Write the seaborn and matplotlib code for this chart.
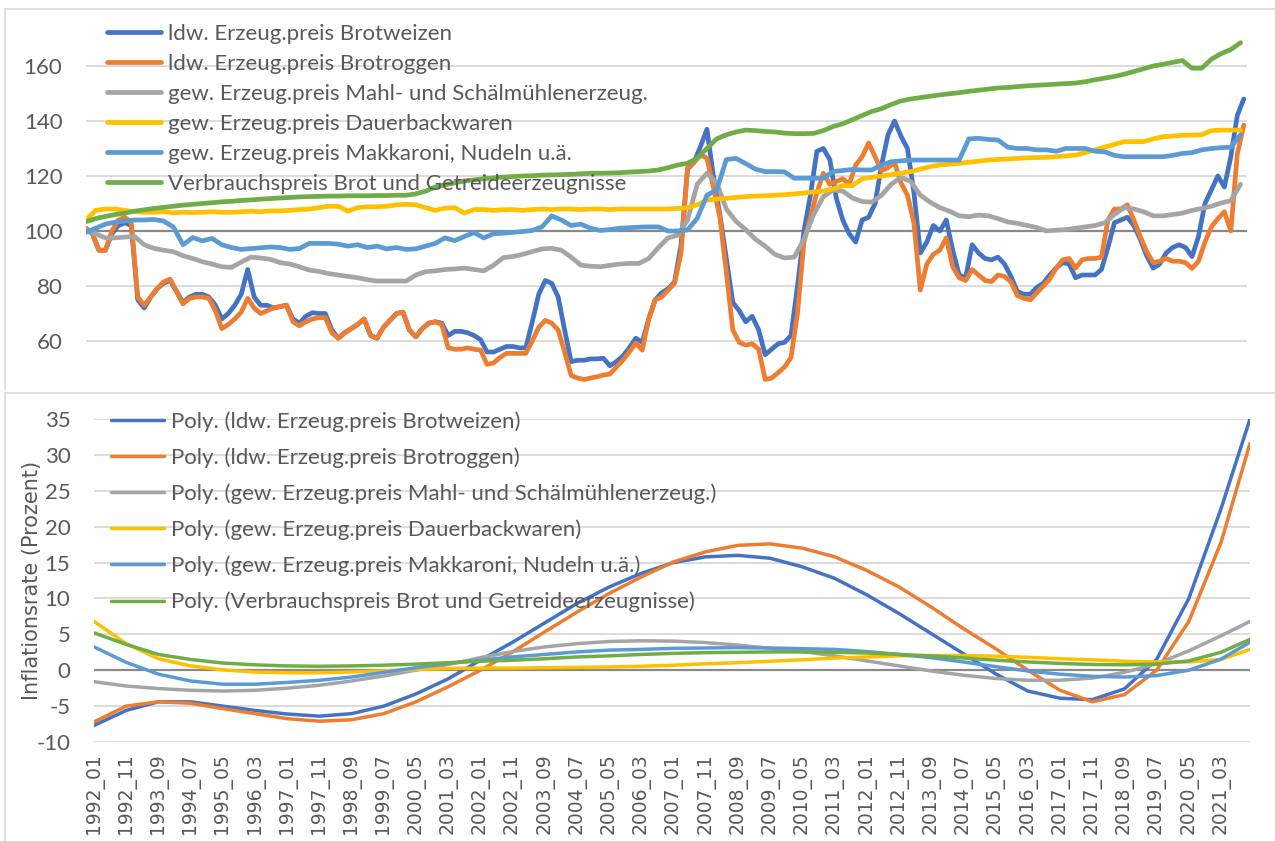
import numpy as np
import pandas as pd
import matplotlib
matplotlib.use("Agg")
import matplotlib.pyplot as plt
import seaborn as sns
from matplotlib.patches import Rectangle
from matplotlib.lines import Line2D

sns.set_theme(style="white")
plt.rcParams['font.family'] = ['Lato', 'DejaVu Sans']
plt.rcParams['axes.unicode_minus'] = False

# ---- data -----------------------------------------------------------
# month index: 0 = 1992_01 ... 359 = 2021_12
month_b = np.arange(0, 360, 2)     # bimonthly readings (volatile series)
month_q = np.arange(0, 360, 3)     # quarterly readings (smooth series)
month_p = [0, 10, 20, 30, 40, 50, 60, 70, 80, 90, 100, 110, 120, 130, 140, 150, 160, 170,
           180, 190, 200, 210, 220, 230, 240, 250, 260, 270, 280, 290, 300, 310, 320, 330,
           340, 350, 359]

names = ["ldw. Erzeug.preis Brotweizen",
         "ldw. Erzeug.preis Brotroggen",
         "gew. Erzeug.preis Mahl- und Schälmühlenerzeug.",
         "gew. Erzeug.preis Dauerbackwaren",
         "gew. Erzeug.preis Makkaroni, Nudeln u.ä.",
         "Verbrauchspreis Brot und Getreideerzeugnisse"]
colors = ["#4472C4", "#ED7D31", "#A5A5A5", "#FFC000", "#5B9BD5", "#70AD47"]

weizen = [101, 99, 93, 93, 99, 102, 103, 102, 75, 72,
          76, 79, 81, 82, 78, 74, 76, 77, 77, 76,
          73, 68, 70, 73, 77, 86, 76, 73, 73, 72,
          72.5, 73, 68, 66.5, 69, 70.3, 70, 70, 64, 61,
          63, 64.5, 66, 68, 62, 61, 65, 67.5, 70, 70.5,
          64, 61.5, 64.5, 66.5, 67, 66.5, 62, 63.5, 63.5, 63,
          62, 60.5, 56, 56, 57, 58, 58, 57.5, 57.5, 67,
          77, 82, 81, 76, 64, 52.5, 53, 53, 53.5, 53.5,
          53.7, 51, 52.5, 54.5, 57.5, 61, 59.5, 68, 75, 77.5,
          79, 81.5, 95, 122.5, 125, 130.7, 137, 120, 106, 90,
          74, 71, 67, 69, 64, 55, 57, 59, 59.5, 62,
          80, 100, 113, 129, 130, 126, 112, 104, 99, 96,
          104, 105, 110, 124, 135, 140, 134.5, 130, 114, 92,
          96, 102, 100, 104, 93, 84, 83, 95, 92, 90,
          89.5, 90.5, 88, 83.5, 78, 77, 77, 79.5, 81, 84,
          86.5, 88.5, 88, 83, 84, 84, 84, 86, 94, 103,
          104, 105, 102, 97, 91, 86.5, 88, 92, 94, 95,
          94, 90.7, 98, 110, 115, 120, 116, 127, 142, 148]

roggen = [101, 99, 93, 93, 100, 104, 105, 103, 76, 73,
          76, 79, 81.5, 82.5, 78, 73.5, 75.5, 76, 76, 75.5,
          71, 64.5, 66, 68, 70.5, 75.5, 72, 70, 71, 72,
          72.5, 73, 67, 65.5, 67, 68, 68.5, 68.5, 63, 61,
          63, 64.5, 66, 68, 62, 61, 65, 67.5, 70, 70.5,
          64, 61.5, 64.5, 66.5, 67, 66, 57.5, 57, 57, 57.5,
          57, 56.7, 51.5, 52, 54, 55.5, 55.5, 55.5, 55.5, 60,
          65, 67.5, 66.5, 64, 56, 47.5, 46.5, 46, 46.5, 47,
          47.6, 48, 50.5, 53, 56, 59.2, 56.7, 68, 75, 76,
          78.5, 81, 92, 123, 125, 127.6, 126.5, 116, 105, 85,
          64, 59.5, 58.5, 59, 57, 46, 46.5, 48.5, 50.5, 54,
          70, 96, 105, 114, 121, 117, 118, 119, 117, 124,
          127, 132, 127, 122, 123, 125, 117.5, 113, 103, 78.5,
          88, 91.5, 93, 97.5, 87, 83, 82, 86, 84, 82,
          81.6, 84, 83.5, 81.5, 76.5, 75.5, 75, 77.5, 80, 82.5,
          86.5, 89.5, 90, 86.5, 89.5, 90, 90, 90.5, 104, 108,
          108, 109.5, 104, 98, 92.5, 88.5, 89, 90, 89, 89,
          88.5, 86.4, 89, 96, 101.5, 104.5, 107, 100, 128, 138.5]

mahl = [100, 99, 97.5, 97.5, 97.8, 98, 95, 93.7, 93, 92.5,
        91, 90, 88.8, 88, 87, 86.8, 88.7, 90.5, 90.2, 89.7,
        88.5, 88, 87, 85.8, 85.3, 84.5, 84, 83.5, 83, 82.3,
        81.8, 81.8, 81.8, 81.8, 84, 85.2, 85.5, 86, 86.2, 86.5,
        86, 85.5, 87.5, 90.3, 90.7, 91.5, 92.5, 93.5, 93.7, 93,
        90.5, 87.6, 87.2, 87, 87.5, 88, 88.2, 88.2, 90, 94,
        97.5, 98.5, 104, 117, 121, 117.5, 108, 103.5, 100.5, 97,
        94.5, 91.5, 90.2, 90.5, 97, 106, 112.5, 114.9, 114.5, 112,
        110.7, 110.5, 113, 117, 119.5, 118, 113, 110.5, 108.5, 107.2,
        105.5, 105.2, 105.8, 105.5, 104.5, 103.3, 102.8, 102, 101.3, 100,
        100.3, 100.5, 101, 101.5, 102, 103, 106, 108.5, 108, 107,
        105.5, 105.5, 106, 106.5, 107.5, 108.2, 109, 110.2, 111, 117]

dauer = [104, 107.5, 108, 108, 107.5, 107, 106.8, 106.8, 107, 106.6,
         106.8, 106.7, 106.8, 107, 106.8, 106.8, 107, 107.2, 107, 107.3,
         107.3, 107.5, 107.8, 108, 108.5, 109, 109, 107.2, 108.5, 108.8,
         108.8, 109, 109.5, 109.7, 109.5, 108.5, 107.5, 108.3, 108.5, 106.5,
         107.8, 107.8, 107.5, 107.7, 107.8, 107.5, 107.8, 108, 107.8, 108,
         108, 107.8, 108, 108, 107.8, 108, 108, 108, 108, 108,
         108, 108.2, 108.5, 109.5, 111.3, 111.6, 111.9, 112.2, 112.5, 112.7,
         112.8, 113, 113.2, 113.5, 113.8, 114.2, 114.5, 115.3, 116.5, 116.5,
         119, 119.5, 120, 120.5, 121, 121.6, 122.5, 123.4, 124, 124.3,
         124.6, 125, 125.4, 125.8, 126, 126.2, 126.4, 126.6, 126.7, 126.8,
         127, 127.3, 127.6, 128.5, 129.5, 130.5, 131.5, 132.5, 132.5, 132.5,
         133.5, 134.3, 134.5, 134.8, 134.9, 135, 136.5, 136.7, 136.7, 136.7]

makkaroni = [99.5, 101, 102.5, 103.2, 103.6, 104, 104, 104.2, 103.6, 101.5,
             95, 97.6, 96.4, 97.3, 95, 94, 93.3, 93.6, 93.9, 94.2,
             94, 93.3, 93.6, 95.5, 95.5, 95.5, 95.2, 94.5, 95, 94,
             94.5, 93.5, 94, 93.3, 93.5, 94.5, 95.5, 97.5, 96.5, 98,
             99.4, 97.5, 99, 99.2, 99.5, 99.8, 100.2, 101.5, 105.5, 104,
             102, 102.5, 101, 100.2, 100.5, 101, 101.2, 101.4, 101.5, 101.5,
             100, 100, 100.4, 104.6, 113, 114.9, 126, 126.4, 124.5, 122.5,
             121.6, 121.6, 121.5, 119.2, 119.2, 119.2, 119.2, 121.6, 122, 122.4,
             122.2, 122.2, 124, 125.2, 125.5, 125.8, 125.8, 125.8, 125.8, 125.8,
             125.8, 133.5, 133.7, 133.3, 133.1, 130.5, 130, 130, 129.5, 129.5,
             129, 130, 130, 130, 129, 128.8, 127.5, 127, 127, 127,
             127, 127, 127.5, 128.2, 128.5, 129.5, 130, 130.3, 130.5, 135]

brot = [103.4, 104.5, 105.3, 106, 106.5, 107.2, 107.7, 108.2, 108.6, 109,
        109.4, 109.7, 110, 110.3, 110.6, 110.8, 111.1, 111.3, 111.6, 111.8,
        112, 112.2, 112.4, 112.5, 112.6, 112.7, 112.7, 112.8, 112.8, 112.8,
        112.9, 112.9, 113, 113, 113.5, 114.5, 116, 116.8, 117.5, 118.2,
        118.6, 119, 119.3, 119.6, 119.8, 120, 120.1, 120.3, 120.4, 120.5,
        120.6, 120.8, 121, 121, 121.1, 121.2, 121.4, 121.6, 121.8, 122.2,
        123, 124, 124.6, 126.5, 130, 133.5, 135, 136, 136.7, 136.5,
        136.2, 136, 135.6, 135.4, 135.4, 135.5, 136.5, 138, 139, 140.5,
        142, 143.5, 144.5, 146, 147.3, 148, 148.5, 149, 149.5, 149.9,
        150.3, 150.8, 151.2, 151.6, 152, 152.2, 152.5, 152.8, 153, 153.2,
        153.4, 153.6, 153.8, 154.3, 155, 155.6, 156.2, 157, 158, 159,
        160, 160.6, 161.3, 162, 159.2, 159.2, 162.5, 164.5, 166, 168.5]

# polynomial trend lines of the inflation rates (read at month_p)
poly_weizen = [-7.7, -5.6, -4.4, -4.4, -5.0, -5.6, -6.1, -6.4, -6.05, -5.0, -3.3, -1.2,
               1.4, 3.9, 6.6, 9.3, 11.6, 13.5, 15.0, 15.8, 16.0, 15.6, 14.4, 12.8, 10.5,
               7.9, 5.1, 2.3, -0.5, -2.9, -3.9, -4.1, -2.6, 1.5, 10.0, 22.5, 35.0]
poly_roggen = [-7.2, -5.0, -4.4, -4.6, -5.35, -6.05, -6.75, -7.1, -6.9, -6.05, -4.4, -2.3,
               0.0, 2.55, 5.35, 8.1, 10.7, 13.0, 15.1, 16.5, 17.4, 17.6, 17.0, 15.8, 13.9,
               11.6, 8.8, 5.8, 3.0, 0.0, -2.8, -4.4, -3.4, 0.0, 6.8, 17.8, 31.6]
poly_mahl = [-1.6, -2.2, -2.55, -2.8, -2.9, -2.8, -2.5, -2.1, -1.5, -0.8, 0.0, 0.8,
             1.75, 2.6, 3.25, 3.7, 4.0, 4.1, 4.05, 3.85, 3.5, 3.05, 2.6, 2.0, 1.3,
             0.6, -0.1, -0.7, -1.15, -1.4, -1.4, -1.1, -0.3, 0.9, 2.7, 4.8, 6.8]
poly_dauer = [6.8, 3.7, 1.6, 0.6, 0.05, -0.25, -0.35, -0.35, -0.25, -0.1, 0.1, 0.25,
              0.3, 0.3, 0.35, 0.4, 0.45, 0.55, 0.7, 0.9, 1.05, 1.25, 1.45, 1.7, 1.85,
              2.0, 2.05, 2.05, 1.95, 1.8, 1.6, 1.45, 1.25, 1.15, 1.15, 1.5, 2.9]
poly_makkaroni = [3.25, 1.1, -0.55, -1.5, -1.95, -1.95, -1.7, -1.4, -0.95, -0.3, 0.35, 0.95,
                  1.4, 1.85, 2.2, 2.55, 2.8, 2.9, 3.05, 3.1, 3.15, 3.1, 3.0, 2.9, 2.6,
                  2.2, 1.75, 1.15, 0.5, -0.1, -0.55, -0.85, -0.95, -0.75, 0.0, 1.55, 3.9]
poly_brot = [5.2, 3.6, 2.2, 1.5, 1.0, 0.75, 0.6, 0.55, 0.6, 0.7, 0.85, 1.05,
             1.25, 1.4, 1.6, 1.85, 2.0, 2.2, 2.35, 2.45, 2.5, 2.55, 2.55, 2.5, 2.4,
             2.2, 2.0, 1.7, 1.4, 1.15, 0.95, 0.8, 0.75, 0.85, 1.3, 2.5, 4.3]

tick_months = list(range(0, 360, 10))
tick_labels = ["1992_01", "1992_11", "1993_09", "1994_07", "1995_05", "1996_03",
               "1997_01", "1997_11", "1998_09", "1999_07", "2000_05", "2001_03",
               "2002_01", "2002_11", "2003_09", "2004_07", "2005_05", "2006_03",
               "2007_01", "2007_11", "2008_09", "2009_07", "2010_05", "2011_03",
               "2012_01", "2012_11", "2013_09", "2014_07", "2015_05", "2016_03",
               "2017_01", "2017_11", "2018_09", "2019_07", "2020_05", "2021_03"]

# ---- figure ---------------------------------------------------------
W, H = 1275, 841
TXT = "#595959"
GRID = "#D9D9D9"
AXLINE = "#898989"
FS = 16
VFONT = ["DejaVu Sans"]   # rotated texts look wider in the reference

fig = plt.figure(figsize=(W / 100, H / 100), dpi=100)


def box(x0, y0, x1, y1):
    # pixel box (top-left origin) -> figure rect
    return [x0 / W, 1 - y1 / H, (x1 - x0) / W, (y1 - y0) / H]


def style_axes(ax, lo, hi, step, zero):
    ax.set_ylim(lo, hi)
    ax.set_xlim(0, 359)
    ax.set_yticks(np.arange(lo, hi + 1, step))
    for s in ax.spines.values():
        s.set_visible(False)
    ax.grid(axis="y", color=GRID, linewidth=1.3)
    ax.grid(axis="x", visible=False)
    ax.set_axisbelow(True)
    ax.axhline(zero, color=AXLINE, linewidth=1.6, zorder=1.5)
    ax.tick_params(axis="y", length=0, pad=17, labelsize=FS, labelcolor=TXT)
    ax.set_xlabel("")
    ax.set_ylabel("")


# top chart: price indices
ax1 = fig.add_axes(box(86, 11, 1247, 396))
top_series = [(month_b, weizen), (month_b, roggen), (month_q, mahl),
              (month_q, dauer), (month_q, makkaroni), (month_q, brot)]
for (xs, ys), name, c in zip(top_series, names, colors):
    sns.lineplot(x=xs, y=ys, ax=ax1, color=c, linewidth=3.4, label=name,
                 estimator=None, solid_joinstyle="round", solid_capstyle="round")
style_axes(ax1, 40, 160, 20, 100)
ax1.set_ylim(40, 180)
ax1.set_xticks([])
ax1.legend(loc="upper left", bbox_to_anchor=(107 / W, 1 - 24 / H),
           bbox_transform=fig.transFigure, frameon=False, borderpad=0,
           borderaxespad=0, handlelength=2.45, handletextpad=0.28,
           labelspacing=0.45, fontsize=FS, labelcolor=TXT)

# white page of the lower chart covering the cut-off part of the upper one
fig.patches.append(Rectangle((0, 0), 1, 1 - 389 / H, transform=fig.transFigure,
                             facecolor="white", edgecolor="none", zorder=2))
for x0, x1, y0, y1 in [(5, 5, 9, 389), (5, W, 9, 9), (5, 5, 393, H), (5, W, 393, 393)]:
    fig.add_artist(Line2D([x0 / W, x1 / W], [1 - y0 / H, 1 - y1 / H],
                          color=GRID, linewidth=1.2, zorder=2.5))

# bottom chart: polynomial trends of inflation rates
ax2 = fig.add_axes(box(94, 419, 1250, 742))
ax2.set_zorder(3)
ax2.patch.set_alpha(0)
polys = [poly_weizen, poly_roggen, poly_mahl, poly_dauer, poly_makkaroni, poly_brot]
for ys, name, c in zip(polys, names, colors):
    sns.lineplot(x=month_p, y=ys, ax=ax2, color=c, linewidth=2.5,
                 label=f"Poly. ({name})", estimator=None, solid_joinstyle="round")
style_axes(ax2, -10, 35, 5, 0)
ax2.set_xticks(tick_months)
ax2.set_xticklabels(tick_labels, rotation=90, family=VFONT, fontsize=13.5)
ax2.tick_params(axis="x", length=0, pad=8, labelcolor=TXT)
ax2.set_ylabel("Inflationsrate (Prozent)", fontsize=15, color=TXT, family=VFONT)
ax2.yaxis.set_label_coords(-52 / 1156, 0.5)
ax2.legend(loc="upper left", bbox_to_anchor=(111 / W, 1 - 411 / H),
           bbox_transform=fig.transFigure, frameon=False, borderpad=0,
           borderaxespad=0, handlelength=2.4, handletextpad=0.28,
           labelspacing=0.7, fontsize=FS, labelcolor=TXT)

fig.savefig("out.png", dpi=100, facecolor="white")
